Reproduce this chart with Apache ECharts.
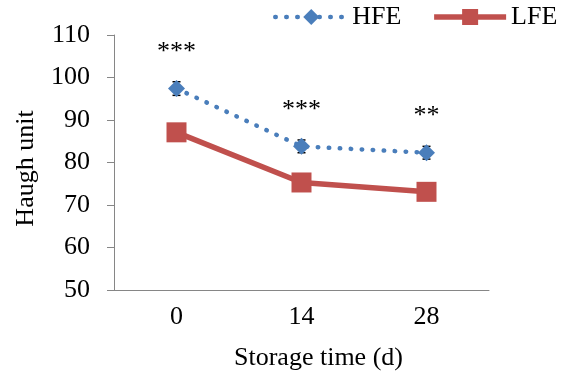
<!DOCTYPE html>
<html>
<head>
<meta charset="utf-8">
<script src="https://cdn.jsdelivr.net/npm/echarts@6/dist/echarts.min.js"></script>
<style>
    html, body { margin: 0; padding: 0; background: #fff; }
    #chart { width: 566px; height: 376px; }
</style>
</head>
<body>
<div id="chart"></div>
<script>
// storage days
var days = ['0', '14', '28'];
// Haugh unit means
var hfe = [97.4, 83.8, 82.3];
var lfe = [87.1, 75.3, 73.1];
// error (sd) for HFE
var hfeErr = [1.6, 1.5, 1.5];
// significance marks
var sig = ['***', '***', '**'];

var font = 'Liberation Serif';
var axisColor = '#868686';
var fs = 26;

var chart = echarts.init(document.getElementById('chart'));

var errData = hfe.map(function (v, i) {
    return [i, v - hfeErr[i], v + hfeErr[i]];
});

var option = {
    animation: false,
    textStyle: { fontFamily: font, color: '#000' },
    legend: {
        left: 273,
        top: 4,
        width: 320,
        padding: 0,
        itemWidth: 72,
        itemHeight: 20,
        itemGap: 30,
        lineStyle: { width: 'inherit' },
        textStyle: { fontFamily: font, fontSize: fs, color: '#000' },
        data: ['HFE', 'LFE']
    },
    grid: {
        left: 114,
        right: 77,
        top: 35,
        bottom: 84
    },
    xAxis: {
        type: 'category',
        data: days,
        name: 'Storage time (d)',
        nameLocation: 'middle',
        nameGap: 55,
        nameTextStyle: { fontFamily: font, fontSize: fs, color: '#000', padding: [0, 0, 0, 34] },
        axisLine: { lineStyle: { color: axisColor, width: 1 } },
        axisTick: { length: 6, lineStyle: { color: axisColor } },
        axisLabel: { margin: 14, fontFamily: font, fontSize: fs, color: '#000' }
    },
    yAxis: {
        type: 'value',
        min: 50,
        max: 110,
        interval: 10,
        name: 'Haugh unit',
        nameLocation: 'middle',
        nameGap: 75,
        nameTextStyle: { fontFamily: font, fontSize: fs, color: '#000', padding: [0, 12, 0, 0] },
        splitLine: { show: false },
        axisLine: { show: true, lineStyle: { color: axisColor, width: 1 } },
        axisTick: { show: true, length: 7, lineStyle: { color: axisColor } },
        axisLabel: { margin: 24, fontFamily: font, fontSize: fs, color: '#000' }
    },
    series: [
        {
            name: 'HFE',
            type: 'line',
            data: hfe,
            z: 3,
            symbol: 'diamond',
            symbolSize: 17,
            itemStyle: { color: '#4A7EBB' },
            lineStyle: { color: '#4A7EBB', width: 4.5, type: [0.5, 10.5], cap: 'round' },
            label: {
                show: true,
                position: 'top',
                distance: 15,
                fontFamily: font,
                fontSize: fs,
                color: '#000',
                formatter: function (p) { return sig[p.dataIndex]; }
            }
        },
        {
            name: 'LFE',
            type: 'line',
            data: lfe,
            z: 3,
            symbol: 'rect',
            symbolSize: 20,
            itemStyle: { color: '#C0504D' },
            lineStyle: { color: '#C0504D', width: 5.5 }
        },
        {
            type: 'custom',
            z: 2,
            silent: true,
            data: errData,
            renderItem: function (params, api) {
                var x = api.coord([api.value(0), api.value(1)])[0];
                var lo = api.coord([api.value(0), api.value(1)])[1];
                var hi = api.coord([api.value(0), api.value(2)])[1];
                var w = 4;
                var st = { stroke: '#000', lineWidth: 1.5 };
                return {
                    type: 'group',
                    children: [
                        { type: 'line', shape: { x1: x, y1: lo, x2: x, y2: hi }, style: st },
                        { type: 'line', shape: { x1: x - w, y1: lo, x2: x + w, y2: lo }, style: st },
                        { type: 'line', shape: { x1: x - w, y1: hi, x2: x + w, y2: hi }, style: st }
                    ]
                };
            }
        }
    ]
};

chart.setOption(option);
</script>
</body>
</html>
